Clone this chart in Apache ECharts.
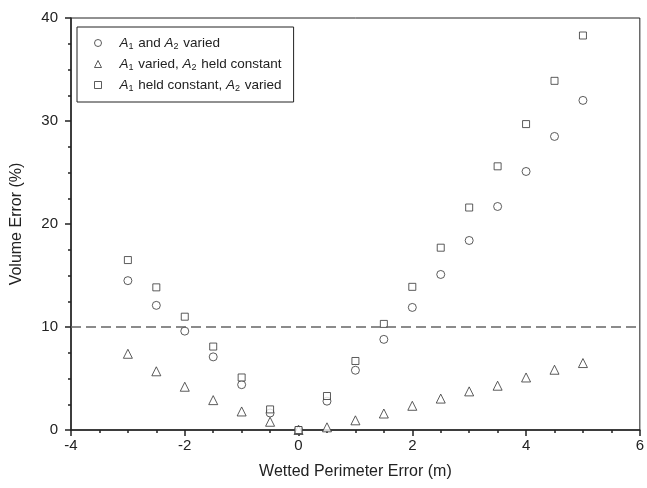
<!DOCTYPE html>
<html>
<head>
<meta charset="utf-8">
<script src="https://cdn.jsdelivr.net/npm/echarts@6/dist/echarts.min.js"></script>
<style>
  html, body { margin: 0; padding: 0; background: #fff; }
  #chart { width: 647px; height: 488px; }
</style>
</head>
<body>
<div id="chart"></div>
<script>
// Wetted perimeter error (m) at which volume error was evaluated
const perimeterError = [-3, -2.5, -2, -1.5, -1, -0.5, 0, 0.5, 1, 1.5, 2, 2.5, 3, 3.5, 4, 4.5, 5];

// Volume error (%) for each scenario
const bothVaried   = [14.5, 12.1, 9.6, 7.1, 4.4, 1.65, 0, 2.8, 5.8, 8.8, 11.9, 15.1, 18.4, 21.7, 25.1, 28.5, 32.0];
const a1Varied     = [7.4, 5.7, 4.2, 2.9, 1.8, 0.8, 0, 0.26, 0.94, 1.6, 2.35, 3.05, 3.75, 4.3, 5.1, 5.85, 6.5];
const a2Varied     = [16.5, 13.85, 11.0, 8.1, 5.1, 2.0, 0, 3.3, 6.7, 10.3, 13.9, 17.7, 21.6, 25.6, 29.7, 33.9, 38.3];

const seriesNames = ['both', 'a1', 'a2'];
const legendLabels = {
  both: '{it|A}{sub|1}{n| and }{it|A}{sub|2}{n| varied}',
  a1:   '{it|A}{sub|1}{n| varied, }{it|A}{sub|2}{n| held constant}',
  a2:   '{it|A}{sub|1}{n| held constant, }{it|A}{sub|2}{n| varied}'
};
const thresholdLine = 10;

const xTicks = { min: -4, max: 6, interval: 2 };
const yTicks = { min: 0, max: 40, interval: 10 };

const FONT = 'Liberation Sans, Arial, sans-serif';
const INK = '#222';

function pairs(ys) {
  return perimeterError.map((x, i) => [x, ys[i]]);
}

const markerStyle = { color: '#fff', borderColor: '#333', borderWidth: 1 };

const chart = echarts.init(document.getElementById('chart'), null, { renderer: 'canvas' });

chart.setOption({
  animation: false,
  backgroundColor: '#fff',
  grid: {
    left: 71, right: 4, top: 18, bottom: 58,
    show: true, borderColor: '#222', borderWidth: 1, backgroundColor: 'transparent'
  },
  legend: {
    data: seriesNames,
    orient: 'vertical',
    left: 77, top: 27,
    padding: [9, 12, 9, 17],
    itemGap: 6,
    itemWidth: 7, itemHeight: 7,
    itemStyle: { color: '#fff', borderColor: '#333', borderWidth: 1 },
    borderColor: '#222', borderWidth: 1,
    backgroundColor: '#fff',
    selectedMode: false,
    formatter: name => legendLabels[name],
    textStyle: {
      fontFamily: FONT, color: INK, padding: [0, 0, 0, 13],
      rich: {
        it:  { fontFamily: FONT, fontSize: 13.5, fontStyle: 'italic', color: INK, lineHeight: 16, verticalAlign: 'middle' },
        n:   { fontFamily: FONT, fontSize: 13.5, color: INK, lineHeight: 16, verticalAlign: 'middle' },
        sub: { fontFamily: FONT, fontSize: 9, color: INK, lineHeight: 16, verticalAlign: 'bottom', padding: [0, 1, 0, 0] }
      }
    }
  },
  xAxis: {
    type: 'value',
    min: xTicks.min, max: xTicks.max, interval: xTicks.interval,
    name: 'Wetted Perimeter Error (m)',
    nameLocation: 'middle', nameGap: 34,
    nameTextStyle: { fontFamily: FONT, fontSize: 16, color: INK },
    axisLine: { onZero: false, lineStyle: { color: '#222', width: 1.5 } },
    axisTick: { show: true, inside: false, length: 6, lineStyle: { color: '#222', width: 1.5 } },
    minorTick: { show: true, splitNumber: 4, length: 3, lineStyle: { color: '#222', width: 1.5 } },
    axisLabel: { fontFamily: FONT, fontSize: 15, color: INK, margin: 8 },
    splitLine: { show: false }
  },
  yAxis: {
    type: 'value',
    min: yTicks.min, max: yTicks.max, interval: yTicks.interval,
    name: 'Volume Error (%)',
    nameLocation: 'middle', nameGap: 46,
    nameTextStyle: { fontFamily: FONT, fontSize: 16, color: INK },
    axisLine: { show: true, onZero: false, lineStyle: { color: '#222', width: 1.5 } },
    axisTick: { show: true, inside: false, length: 6, lineStyle: { color: '#222', width: 1.5 } },
    minorTick: { show: true, splitNumber: 4, length: 3, lineStyle: { color: '#222', width: 1.5 } },
    axisLabel: { fontFamily: FONT, fontSize: 15, color: INK, margin: 13 },
    splitLine: { show: false }
  },
  series: [
    {
      name: 'both', type: 'scatter', symbol: 'circle', symbolSize: 8,
      itemStyle: markerStyle, data: pairs(bothVaried), z: 3,
      markLine: {
        silent: true, symbol: 'none', label: { show: false },
        lineStyle: { color: '#666', width: 1.5, type: [10, 5] },
        data: [{ yAxis: thresholdLine }]
      }
    },
    {
      name: 'a1', type: 'scatter', symbol: 'triangle', symbolSize: 9,
      itemStyle: markerStyle, data: pairs(a1Varied), z: 3
    },
    {
      name: 'a2', type: 'scatter', symbol: 'rect', symbolSize: 7,
      itemStyle: markerStyle, data: pairs(a2Varied), z: 4
    }
  ]
});
</script>
</body>
</html>
